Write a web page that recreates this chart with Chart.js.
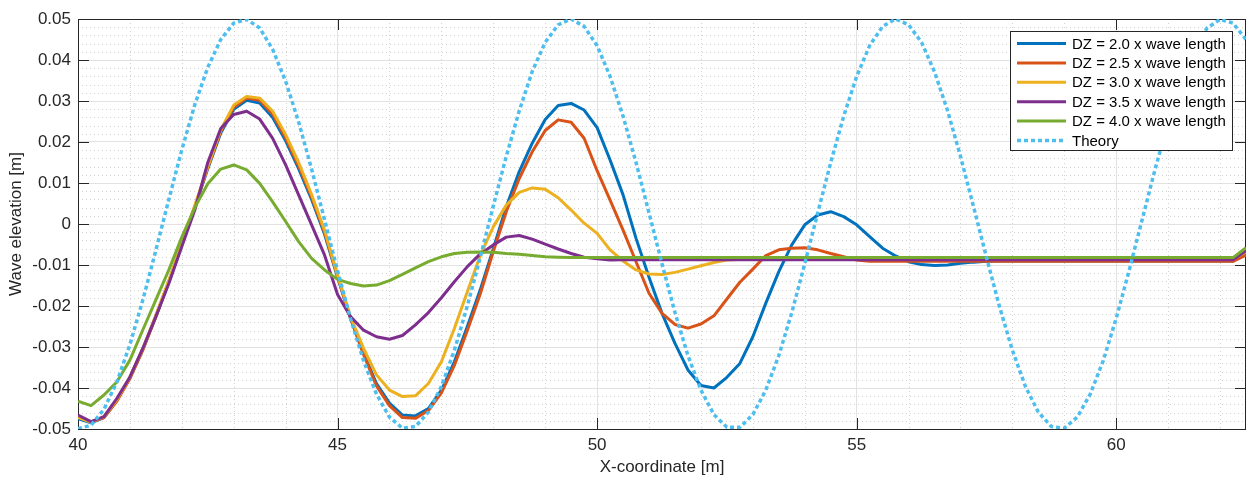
<!DOCTYPE html>
<html>
<head>
<meta charset="utf-8">
<title>Wave elevation</title>
<script src="https://cdn.jsdelivr.net/npm/chart.js@4.4.1/dist/chart.umd.min.js"></script>
<style>
  html, body { margin: 0; padding: 0; background: #ffffff; }
  canvas { display: block; }
</style>
</head>
<body>
<canvas id="grafico" width="1246" height="482"></canvas>
<script>
const xCoord = [
  40, 40.25, 40.5, 40.75, 41, 41.25, 41.5, 41.75, 42, 42.25,
  42.5, 42.75, 43, 43.25, 43.5, 43.75, 44, 44.25, 44.5, 44.75,
  45, 45.25, 45.5, 45.75, 46, 46.25, 46.5, 46.75, 47, 47.25,
  47.5, 47.75, 48, 48.25, 48.5, 48.75, 49, 49.25, 49.5, 49.75,
  50, 50.25, 50.5, 50.75, 51, 51.25, 51.5, 51.75, 52, 52.25,
  52.5, 52.75, 53, 53.25, 53.5, 53.75, 54, 54.25, 54.5, 54.75,
  55, 55.25, 55.5, 55.75, 56, 56.25, 56.5, 56.75, 57, 57.25,
  57.5, 57.75, 58, 58.25, 58.5, 58.75, 59, 59.25, 59.5, 59.75,
  60, 60.25, 60.5, 60.75, 61, 61.25, 61.5, 61.75, 62, 62.25,
  62.5,
];

const dz20 = [
  -0.0475, -0.0485, -0.0472, -0.043, -0.0375, -0.0305, -0.0225, -0.014, -0.005, 0.004,
  0.0135, 0.0222, 0.028, 0.0302, 0.0295, 0.026, 0.0203, 0.0135, 0.006, -0.0025,
  -0.013, -0.023, -0.0315, -0.0389, -0.0437, -0.0466, -0.0468, -0.045, -0.0405, -0.0336,
  -0.025, -0.016, -0.006, 0.0042, 0.0128, 0.0197, 0.0255, 0.0289, 0.0294, 0.0278,
  0.0235, 0.0156, 0.0071, -0.0035, -0.013, -0.0218, -0.0291, -0.0356, -0.0394, -0.04,
  -0.0374, -0.034, -0.0275, -0.0193, -0.0116, -0.0051, -0.0002, 0.0022, 0.003, 0.0018,
  -0.0002, -0.0031, -0.0059, -0.0078, -0.0092, -0.0099, -0.0101, -0.01, -0.0096, -0.0093,
  -0.0091, -0.009, -0.009, -0.009, -0.009, -0.009, -0.009, -0.009, -0.009, -0.009,
  -0.009, -0.009, -0.009, -0.009, -0.009, -0.009, -0.009, -0.009, -0.009, -0.009,
  -0.0072,
];

const dz25 = [
  -0.047, -0.0483, -0.0472, -0.0432, -0.0377, -0.0307, -0.0226, -0.014, -0.005, 0.0042,
  0.0138, 0.0226, 0.0285, 0.0307, 0.0302, 0.0268, 0.021, 0.0142, 0.0066, -0.002,
  -0.0127, -0.023, -0.0318, -0.0395, -0.0443, -0.0472, -0.0474, -0.0455, -0.0412, -0.0345,
  -0.026, -0.017, -0.0067, 0.003, 0.0111, 0.0176, 0.0228, 0.0254, 0.0248, 0.0209,
  0.013, 0.0058, -0.0015, -0.0092, -0.0169, -0.0218, -0.0245, -0.0254, -0.0244, -0.0224,
  -0.0183, -0.0142, -0.011, -0.0077, -0.0063, -0.0059, -0.0058, -0.0063, -0.0072, -0.008,
  -0.0088, -0.0091, -0.0091, -0.0091, -0.0091, -0.0091, -0.0091, -0.0091, -0.0091, -0.0091,
  -0.0091, -0.0091, -0.0091, -0.0091, -0.0091, -0.0091, -0.0091, -0.0091, -0.0091, -0.0091,
  -0.0091, -0.0091, -0.0091, -0.0091, -0.0091, -0.0091, -0.0091, -0.0091, -0.0091, -0.0091,
  -0.0076,
];

const dz30 = [
  -0.0472, -0.0484, -0.047, -0.0428, -0.0373, -0.0303, -0.0222, -0.0137, -0.0047, 0.0045,
  0.014, 0.023, 0.029, 0.0311, 0.0307, 0.0275, 0.0218, 0.015, 0.0072, -0.0015,
  -0.0125, -0.0226, -0.0303, -0.0368, -0.0405, -0.0421, -0.0419, -0.0389, -0.0336, -0.0255,
  -0.0165, -0.0076, -0.0007, 0.0046, 0.0077, 0.0088, 0.0085, 0.0064, 0.0034, 0.0002,
  -0.0023, -0.0063, -0.009, -0.0112, -0.0122, -0.0123, -0.0118, -0.011, -0.0102, -0.0094,
  -0.0088, -0.0086, -0.0086, -0.0086, -0.0086, -0.0086, -0.0086, -0.0086, -0.0086, -0.0086,
  -0.0086, -0.0086, -0.0086, -0.0086, -0.0086, -0.0086, -0.0086, -0.0086, -0.0086, -0.0086,
  -0.0086, -0.0086, -0.0086, -0.0086, -0.0086, -0.0086, -0.0086, -0.0086, -0.0086, -0.0086,
  -0.0086, -0.0086, -0.0086, -0.0086, -0.0086, -0.0086, -0.0086, -0.0086, -0.0086, -0.0086,
  -0.0068,
];

const dz35 = [
  -0.0466, -0.0482, -0.047, -0.0425, -0.0373, -0.0303, -0.0226, -0.0145, -0.0055, 0.0034,
  0.015, 0.0233, 0.0267, 0.0275, 0.0256, 0.0209, 0.0144, 0.0071, -0.0002, -0.0076,
  -0.0172, -0.0226, -0.0259, -0.0275, -0.0281, -0.0272, -0.0246, -0.0216, -0.018, -0.0141,
  -0.0104, -0.0073, -0.0051, -0.0032, -0.0028, -0.0037, -0.0049, -0.0061, -0.0072, -0.0081,
  -0.0085, -0.0088, -0.0087, -0.0087, -0.0087, -0.0087, -0.0087, -0.0087, -0.0087, -0.0087,
  -0.0087, -0.0087, -0.0087, -0.0087, -0.0087, -0.0087, -0.0087, -0.0087, -0.0087, -0.0087,
  -0.0087, -0.0087, -0.0087, -0.0087, -0.0087, -0.0087, -0.0087, -0.0087, -0.0087, -0.0087,
  -0.0087, -0.0087, -0.0087, -0.0087, -0.0087, -0.0087, -0.0087, -0.0087, -0.0087, -0.0087,
  -0.0087, -0.0087, -0.0087, -0.0087, -0.0087, -0.0087, -0.0087, -0.0087, -0.0087, -0.0087,
  -0.0065,
];

const dz40 = [
  -0.0432, -0.0443, -0.0417, -0.0385, -0.0332, -0.0258, -0.0185, -0.0112, -0.0032, 0.004,
  0.0098, 0.0134, 0.0144, 0.0132, 0.0099, 0.0054, 0.0006, -0.0043, -0.0084, -0.0112,
  -0.0135, -0.0145, -0.0151, -0.0149, -0.0138, -0.0123, -0.0107, -0.0092, -0.008, -0.0072,
  -0.0069, -0.0068, -0.0069, -0.0072, -0.0074, -0.0077, -0.008, -0.0081, -0.0082, -0.0082,
  -0.0082, -0.0082, -0.0082, -0.0082, -0.0082, -0.0082, -0.0082, -0.0082, -0.0082, -0.0082,
  -0.0082, -0.0082, -0.0082, -0.0082, -0.0082, -0.0082, -0.0082, -0.0082, -0.0082, -0.0082,
  -0.0082, -0.0082, -0.0082, -0.0082, -0.0082, -0.0082, -0.0082, -0.0082, -0.0082, -0.0082,
  -0.0082, -0.0082, -0.0082, -0.0082, -0.0082, -0.0082, -0.0082, -0.0082, -0.0082, -0.0082,
  -0.0082, -0.0082, -0.0082, -0.0082, -0.0082, -0.0082, -0.0082, -0.0082, -0.0082, -0.0082,
  -0.0058,
];

const theory = [
  -0.0499, -0.0491, -0.0452, -0.0385, -0.0294, -0.0185, -0.0064, 0.006, 0.0181, 0.0291,
  0.0382, 0.045, 0.049, 0.0499, 0.0478, 0.0426, 0.0348, 0.0249, 0.0134, 0.001,
  -0.0114, -0.0231, -0.0333, -0.0415, -0.0471, -0.0498, -0.0494, -0.0459, -0.0396, -0.0308,
  -0.02, -0.0081, 0.0044, 0.0165, 0.0276, 0.0372, 0.0443, 0.0486, 0.05, 0.0482,
  0.0435, 0.036, 0.0263, 0.015, 0.0027, -0.0097, -0.0216, -0.0321, -0.0405, -0.0465,
  -0.0496, -0.0496, -0.0465, -0.0405, -0.0321, -0.0216, -0.0097, 0.0027, 0.015, 0.0263,
  0.036, 0.0435, 0.0482, 0.05, 0.0486, 0.0443, 0.0371, 0.0277, 0.0165, 0.0043,
  -0.0081, -0.0201, -0.0308, -0.0396, -0.0459, -0.0494, -0.0498, -0.0471, -0.0415, -0.0333,
  -0.023, -0.0113, 0.0011, 0.0134, 0.0249, 0.0348, 0.0426, 0.0478, 0.0499, 0.049,
  0.045,
];

const seriesLabels = [
  "DZ = 2.0 x wave length",
  "DZ = 2.5 x wave length",
  "DZ = 3.0 x wave length",
  "DZ = 3.5 x wave length",
  "DZ = 4.0 x wave length",
  "Theory",
];
const seriesValues = [dz20, dz25, dz30, dz35, dz40, theory];
const seriesColors = ["#0072bd", "#d95319", "#edb120", "#7e2f8e", "#77ac30", "#4dbeee"];

const xTicks = [40, 45, 50, 55, 60];
const yTicks = [-0.05, -0.04, -0.03, -0.02, -0.01, 0, 0.01, 0.02, 0.03, 0.04, 0.05];

const FONTE = "'Liberation Sans', Arial, Helvetica, sans-serif";
const COR_TEXTO = "#262626";
const COR_EIXO = "#262626";

function montarDatasets() {
  return seriesValues.map((valores, i) => {
    const teoria = i === seriesValues.length - 1;
    return {
      label: seriesLabels[i],
      data: xCoord.map((x, k) => ({ x: x, y: valores[k] })),
      borderColor: seriesColors[i],
      backgroundColor: seriesColors[i],
      borderWidth: teoria ? 3.5 : 3,
      borderDash: teoria ? [4, 3] : [],
      borderCapStyle: "butt",
      borderJoinStyle: "round",
      pointRadius: 0,
      tension: 0,
      fill: false,
      order: seriesValues.length - 1 - i,
    };
  });
}

// dotted minor grid, inner tick marks and the axes box
const eixosMatlab = {
  id: "eixosMatlab",
  beforeDatasetsDraw(chart) {
    const { ctx, chartArea: a, scales } = chart;
    const sx = scales.x;
    const sy = scales.y;

    ctx.save();
    ctx.strokeStyle = "#d2d2d2";
    ctx.lineWidth = 1;
    ctx.setLineDash([1, 3]);
    for (let v = 41; v < 62.5; v += 1) {
      if (v % 5 === 0) continue;
      const px = Math.round(sx.getPixelForValue(v)) + 0.5;
      ctx.beginPath();
      ctx.moveTo(px, a.top);
      ctx.lineTo(px, a.bottom);
      ctx.stroke();
    }
    for (let k = -24; k <= 24; k++) {
      if (k % 5 === 0) continue;
      const py = Math.round(sy.getPixelForValue(k * 0.002)) + 0.5;
      ctx.beginPath();
      ctx.moveTo(a.left, py);
      ctx.lineTo(a.right, py);
      ctx.stroke();
    }
    ctx.restore();

    ctx.save();
    ctx.strokeStyle = COR_EIXO;
    ctx.lineWidth = 1;
    ctx.setLineDash([]);
    const tam = 11;
    xTicks.forEach((v) => {
      const px = Math.round(sx.getPixelForValue(v)) + 0.5;
      ctx.beginPath();
      ctx.moveTo(px, a.bottom);
      ctx.lineTo(px, a.bottom - tam);
      ctx.moveTo(px, a.top);
      ctx.lineTo(px, a.top + tam);
      ctx.stroke();
    });
    yTicks.forEach((v) => {
      const py = Math.round(sy.getPixelForValue(v)) + 0.5;
      ctx.beginPath();
      ctx.moveTo(a.left, py);
      ctx.lineTo(a.left + tam, py);
      ctx.moveTo(a.right, py);
      ctx.lineTo(a.right - tam, py);
      ctx.stroke();
    });
    ctx.strokeRect(Math.round(a.left) + 0.5, Math.round(a.top) + 0.5,
      Math.round(a.right - a.left) - 1, Math.round(a.bottom - a.top));
    ctx.restore();
  },
  afterDraw(chart) {
    desenharLegenda(chart);
  },
};

function desenharLegenda(chart) {
  const ctx = chart.ctx;
  const caixa = { x: 1010.5, y: 31.5, w: 222, h: 119 };
  const passo = 19.4;

  ctx.save();
  ctx.fillStyle = "#ffffff";
  ctx.fillRect(caixa.x, caixa.y, caixa.w, caixa.h);
  ctx.strokeStyle = COR_EIXO;
  ctx.lineWidth = 1;
  ctx.strokeRect(caixa.x, caixa.y, caixa.w, caixa.h);

  ctx.font = "15px " + FONTE;
  ctx.textBaseline = "middle";
  ctx.textAlign = "left";

  chart.data.datasets.forEach((ds, i) => {
    const yy = caixa.y + 12 + i * passo;
    ctx.strokeStyle = ds.borderColor;
    ctx.lineWidth = ds.borderWidth;
    ctx.lineCap = "butt";
    ctx.setLineDash(ds.borderDash);
    ctx.beginPath();
    ctx.moveTo(1017, yy);
    ctx.lineTo(1066, yy);
    ctx.stroke();
    ctx.setLineDash([]);
    ctx.fillStyle = "#000000";
    ctx.fillText(ds.label, 1072, yy + 1);
  });
  ctx.restore();
}

function formatarY(v) {
  if (Math.abs(v) < 1e-9) return "0";
  return v.toFixed(2);
}

document.addEventListener("DOMContentLoaded", () => {
  const ctx = document.getElementById("grafico").getContext("2d");

  new Chart(ctx, {
    type: "line",
    data: { datasets: montarDatasets() },
    options: {
      responsive: false,
      animation: false,
      layout: { padding: { top: 19, right: 0, bottom: 0, left: 0 } },
      plugins: {
        legend: { display: false },
        tooltip: { enabled: false },
      },
      scales: {
        x: {
          type: "linear",
          min: 40,
          max: 62.5,
          afterBuildTicks: (s) => {
            s.ticks = xTicks.map((v) => ({ value: v }));
          },
          afterFit: (s) => {
            s.height = 53;
          },
          ticks: {
            color: COR_TEXTO,
            font: { family: FONTE, size: 17 },
            padding: 6,
            maxRotation: 0,
            callback: (v) => String(v),
          },
          grid: { color: "#e2e2e2", lineWidth: 1, drawTicks: false },
          border: { display: false },
          title: {
            display: true,
            text: "X-coordinate [m]",
            color: COR_TEXTO,
            font: { family: FONTE, size: 17 },
            padding: { top: 4, bottom: 4 },
          },
        },
        y: {
          type: "linear",
          min: -0.05,
          max: 0.05,
          afterBuildTicks: (s) => {
            s.ticks = yTicks.map((v) => ({ value: v }));
          },
          afterFit: (s) => {
            s.width = 78;
          },
          ticks: {
            color: COR_TEXTO,
            font: { family: FONTE, size: 17 },
            padding: 7,
            callback: formatarY,
          },
          grid: { color: "#e2e2e2", lineWidth: 1, drawTicks: false },
          border: { display: false },
          title: {
            display: true,
            text: "Wave elevation [m]",
            color: COR_TEXTO,
            font: { family: FONTE, size: 17 },
            padding: { top: 6, bottom: 6 },
          },
        },
      },
    },
    plugins: [eixosMatlab],
  });
});
</script>
</body>
</html>
